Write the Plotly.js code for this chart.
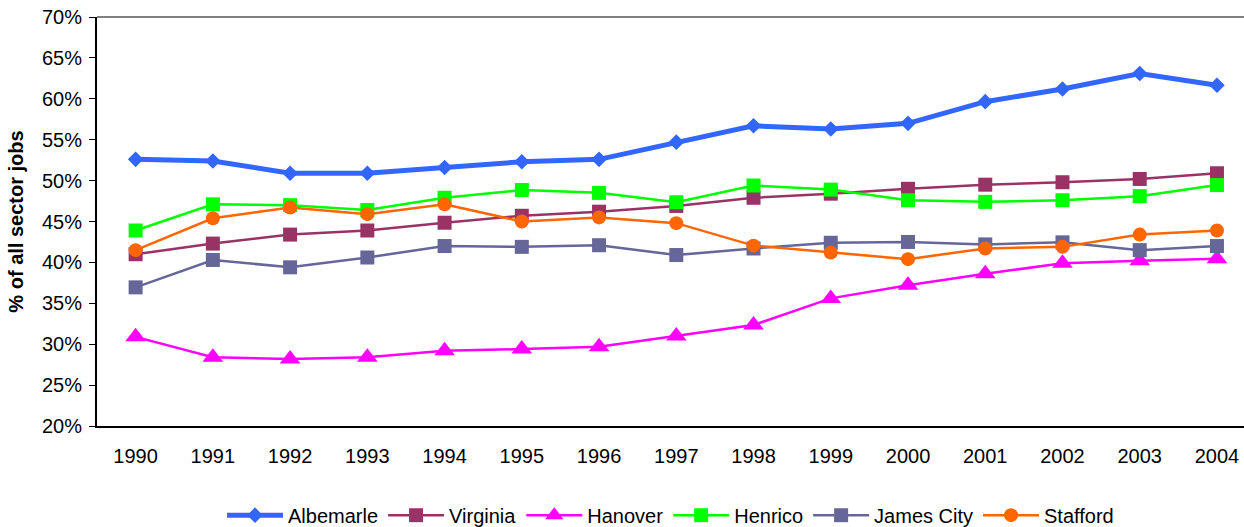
<!DOCTYPE html>
<html>
<head>
<meta charset="utf-8">
<script src="https://cdn.plot.ly/plotly-3.0.1.min.js"></script>
<style>html,body{margin:0;padding:0;background:#fff;}#chart{width:1244px;height:527px;}</style>
</head>
<body>
<div id="chart"></div>
<script>
const years = ['1990','1991','1992','1993','1994','1995','1996','1997','1998','1999','2000','2001','2002','2003','2004'];
const albemarle = [52.6,52.4,50.9,50.9,51.6,52.3,52.6,54.7,56.7,56.3,57.0,59.65,61.2,63.1,61.65];
const virginia = [41.0,42.3,43.4,43.9,44.85,45.7,46.2,46.9,47.9,48.4,49.0,49.5,49.8,50.2,50.9];
const hanover = [30.9,28.4,28.2,28.4,29.2,29.4,29.7,31.0,32.35,35.6,37.2,38.6,39.9,40.2,40.45];
const henrico = [43.9,47.1,47.0,46.4,47.9,48.85,48.5,47.35,49.4,48.9,47.6,47.4,47.6,48.1,49.45];
const jamesCity = [36.95,40.3,39.4,40.6,42.0,41.9,42.1,40.9,41.7,42.4,42.5,42.2,42.45,41.5,42.0];
const stafford = [41.5,45.4,46.7,45.9,47.1,45.0,45.5,44.8,42.05,41.2,40.4,41.7,41.9,43.4,43.9];
const yTicks = [20,25,30,35,40,45,50,55,60,65,70];
const yTickText = yTicks.map(v => v + '%');

function tr(name, y, color, symbol, lw, ms) {
  return {
    x: years, y: y, name: name, type: 'scatter', mode: 'lines+markers',
    line: {color: color, width: lw},
    marker: {color: color, symbol: symbol, size: ms, line: {width: 0}}
  };
}
const data = [
  tr('Albemarle', albemarle, '#3366FF', 'diamond', 5, 12),
  tr('Virginia', virginia, '#993366', 'square', 2.5, 14),
  tr('Hanover', hanover, '#FF00FF', 'triangle-up', 2.5, 18),
  tr('Henrico', henrico, '#00FF00', 'square', 2.5, 14),
  tr('James City', jamesCity, '#666699', 'square', 2.5, 14),
  tr('Stafford', stafford, '#FF6600', 'circle', 2.5, 14)
];
const layout = {
  width: 1244, height: 527,
  margin: {l: 97, r: 0, t: 17, b: 101, autoexpand: false},
  paper_bgcolor: '#fff', plot_bgcolor: '#fff',
  font: {family: 'Liberation Sans, Arial, sans-serif', size: 20, color: '#000'},
  showlegend: true,
  legend: {orientation: 'h', x: 0.5, xanchor: 'center', y: -0.218, yanchor: 'middle',
           font: {size: 20}, itemwidth: 56, tracegroupgap: 0},
  xaxis: {type: 'category', range: [-0.5, 14.35], showgrid: false, zeroline: false,
          showline: true, linecolor: '#000', linewidth: 2, automargin: false,
          ticks: 'outside', ticklen: 11, tickcolor: 'rgba(0,0,0,0)', tickfont: {size: 20}},
  yaxis: {range: [20, 70], tickvals: yTicks, ticktext: yTickText, showgrid: false, zeroline: false,
          showline: true, linecolor: '#000', linewidth: 2, automargin: false,
          ticks: 'outside', ticklen: 6, tickwidth: 1, tickcolor: '#000', tickfont: {size: 20},
          ticklabelstandoff: 3,
          title: {text: '<b>% of all sector jobs</b>', font: {size: 20}, standoff: 13}},
  shapes: [{type: 'line', xref: 'paper', yref: 'paper', x0: 0, x1: 1, y0: 1, y1: 1,
            line: {color: '#808080', width: 2}}]
};
Plotly.newPlot('chart', data, layout, {displayModeBar: false, staticPlot: true});
</script>
</body>
</html>
